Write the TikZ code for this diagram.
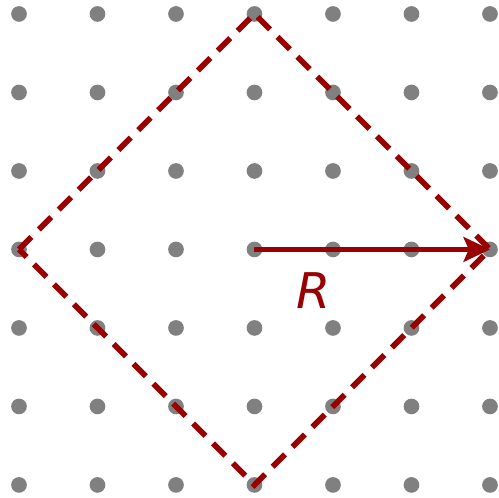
\documentclass[tikz,border=0pt]{standalone}
\usepackage{fontspec}
\setsansfont{DejaVu Sans}
\usepackage{xcolor}
\usetikzlibrary{arrows.meta}
\definecolor{dred}{RGB}{153,0,0}

\begin{document}
\begin{tikzpicture}[x=1.57cm,y=1.57cm,
      dot/.style={circle,fill=gray,draw=none,inner sep=0pt,minimum size=0.2cm*1.57},
      ball/.style={draw=dred,line width=3.2pt,dash pattern=on 10pt off 6pt},
      radius/.style={-{Stealth[length=15pt,width=14pt,inset=3pt]},draw=dred,line width=3.2pt},
      lab/.style={font=\sffamily\itshape\fontsize{28}{30}\selectfont,text=dred},
  ]
  \useasboundingbox (-0.242,-0.166) rectangle (6.115,6.178);

  % Lattice points
  \foreach \i in {0,...,6}
    \foreach \j in {0,...,6}
      \node[dot] (d-\i-\j) at (\i,\j) {};

  % Ball of radius R
  \draw[ball] (d-0-3.center) -- (d-3-6.center) -- (d-6-3.center)
    -- (d-3-0.center) -- cycle;

  % Radius
  \draw[radius] (d-3-3.center) -- (d-6-3.center);
  \node[lab] (r) at (3.75,2.48) {R};
\end{tikzpicture}
\end{document}
